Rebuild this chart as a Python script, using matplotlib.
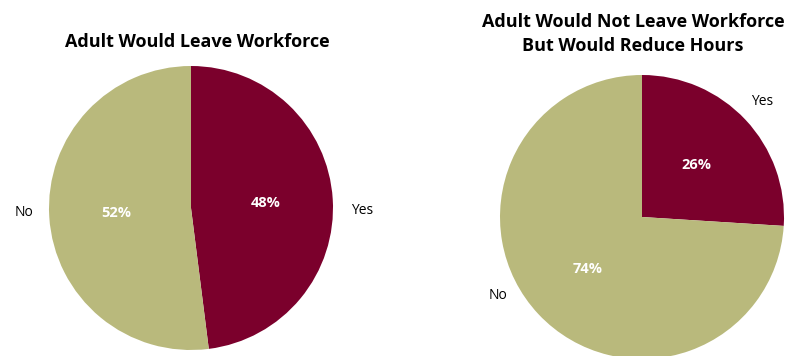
import matplotlib.pyplot as plt

# data
labels = ["Yes", "No"]
leave_values = [48, 52]
reduce_values = [26, 74]
titles = ["Adult Would Leave Workforce",
          "Adult Would Not Leave Workforce\nBut Would Reduce Hours"]

colors = ["#7B002C", "#B9B97C"]

plt.rcParams['font.family'] = ['Open Sans', 'DejaVu Sans']

W, H = 792, 356
fig = plt.figure(figsize=(W / 100, H / 100), dpi=100)

# axes boxes in pixels (left, top, size) -> figure fraction
boxes = [(49, 66, 284), (500, 75, 284)]
pads = [14, 17]
title_x = [0.521, 0.468]
# outside label anchors (in pie radius units), like Excel's placement
label_xy = [[(1.13, -0.02), (-1.11, -0.035)],
            [(0.77, 0.81), (-0.95, -0.55)]]


def draw_pie(box, values, title, pad, tx, lxy):
    x0, y0, s = box
    ax = fig.add_axes([x0 / W, (H - y0 - s) / H, s / W, s / H])
    wedges, texts, autotexts = ax.pie(
        values, labels=labels, colors=colors, startangle=90,
        counterclock=False, autopct='%d%%', pctdistance=0.53,
        labeldistance=1.11, radius=1.0,
        wedgeprops=dict(linewidth=0),
        textprops=dict(fontsize=10, color="black"))
    for t, p in zip(texts, lxy):
        t.set_position(p)
    for t in autotexts:
        t.set_color("white")
        t.set_fontweight("bold")
        t.set_fontsize(10.5)
    ax.set_xlim(-1, 1)
    ax.set_ylim(-1, 1)
    ax.set_aspect('equal')
    ax.set_title(title, fontsize=13, fontweight='bold', pad=pad,
                 linespacing=1.45, x=tx)
    return ax


for box, vals, title, pad, tx, lxy in zip(boxes, [leave_values, reduce_values],
                                          titles, pads, title_x, label_xy):
    draw_pie(box, vals, title, pad, tx, lxy)

fig.savefig("out.png", dpi=100, facecolor="white")
